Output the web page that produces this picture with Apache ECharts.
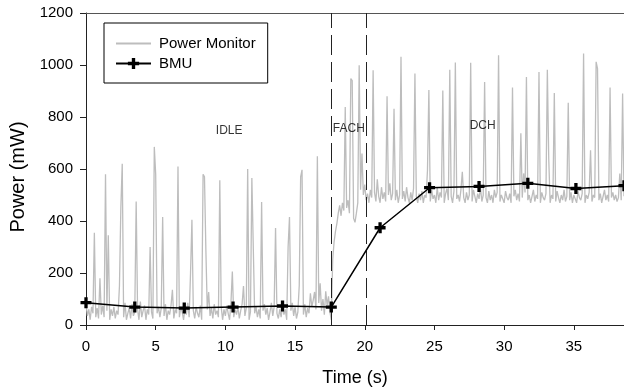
<!DOCTYPE html>
<html>
<head>
<meta charset="utf-8">
<script src="https://cdn.jsdelivr.net/npm/echarts@6/dist/echarts.min.js"></script>
<style>
html,body{margin:0;padding:0;background:#fff;}
#chart{width:624px;height:392px;}
</style>
</head>
<body>
<div id="chart"></div>
<script>
// ---- Data ----
// Power Monitor trace, sampled every 0.1 s from t = 0.0 s
var pmStep = 0.1;
var pmValues = [
  80, 35, 60, 20, 70, 45, 355, 30, 65, 25,
  180, 40, 75, 30, 580, 55, 345, 20, 60, 35,
  70, 25, 55, 40, 150, 450, 620, 30, 85, 20,
  45, 65, 25, 80, 35, 50, 475, 60, 20, 90,
  30, 55, 75, 20, 60, 40, 300, 50, 25, 685,
  580, 45, 70, 30, 65, 415, 35, 80, 20, 55,
  40, 75, 135, 25, 60, 45, 610, 30, 70, 50,
  20, 65, 40, 85, 30, 200, 405, 55, 25, 70,
  45, 30, 75, 20, 580, 570, 290, 60, 127, 35,
  65, 25, 80, 40, 55, 30, 557, 70, 20, 60,
  35, 75, 45, 20, 85, 206, 30, 60, 40, 70,
  25, 55, 80, 150, 35, 65, 600, 20, 50, 565,
  560, 45, 70, 30, 60, 25, 473, 55, 80, 40,
  65, 20, 50, 85, 35, 70, 373, 45, 25, 60,
  30, 75, 40, 60, 20, 299, 415, 55, 85, 35,
  70, 25, 50, 152, 570, 597, 40, 80, 30, 65,
  45, 122, 70, 95, 127, 60, 649, 85, 160, 55,
  100, 40, 130, 75, 110, 50, 20, 250, 320, 360,
  390, 430, 460, 420, 470, 440, 838, 450, 480, 430,
  948, 940, 410, 395, 430, 470, 999, 520, 660, 500,
  540, 480, 505, 470, 520, 490, 980, 510, 475, 560,
  495, 470, 530, 485, 510, 475, 880, 500, 545, 480,
  505, 832, 480, 520, 470, 500, 1032, 485, 515, 475,
  530, 490, 470, 510, 480, 525, 967, 495, 470, 505,
  480, 515, 470, 500, 490, 595, 904, 475, 520, 485,
  500, 470, 530, 480, 510, 490, 902, 470, 505, 525,
  480, 982, 495, 470, 515, 1010, 485, 500, 475, 520,
  589, 490, 470, 510, 480, 500, 1009, 475, 520, 495,
  470, 505, 485, 530, 475, 500, 935, 490, 470, 515,
  480, 500, 470, 520, 490, 510, 1037, 475, 500, 485,
  470, 515, 490, 480, 505, 470, 913, 495, 520, 480,
  505, 475, 737, 490, 583, 510, 954, 480, 500, 470,
  495, 520, 475, 500, 485, 973, 470, 510, 490, 480,
  505, 982, 640, 470, 500, 485, 892, 475, 515, 490,
  470, 500, 480, 520, 475, 495, 855, 480, 510, 470,
  500, 485, 470, 515, 490, 480, 505, 1044, 470, 500,
  485, 510, 672, 475, 500, 490, 1012, 986, 480, 505,
  470, 495, 520, 480, 500, 475, 913, 490, 510, 480,
  500, 475, 490, 583, 480, 890, 495
];

// BMU estimates
var bmuTimes  = [0, 3.5, 7.05, 10.55, 14.1, 17.6, 21.1, 24.65, 28.2, 31.7, 35.15, 38.6];
var bmuValues = [86, 69, 65, 69, 73, 69, 374, 528, 533, 545, 525, 536];

// Phase boundaries and labels
var phaseBounds = [17.6, 20.1];
var phaseNames  = ['IDLE', 'FACH', 'DCH'];
var phaseLabelX = [10.27, 18.86, 28.46];
var phaseLabelY = [749, 755, 768];

// Axis ticks
var xTicks = [0, 5, 10, 15, 20, 25, 30, 35];
var yTicks = [0, 200, 400, 600, 800, 1000, 1200];

// ---- Build ----
var pmData = pmValues.map(function (v, i) { return [+(i * pmStep).toFixed(1), v]; });
var bmuData = bmuTimes.map(function (t, i) { return [t, bmuValues[i]]; });
var phaseData = phaseNames.map(function (n, i) { return [phaseLabelX[i], phaseLabelY[i], n]; });

var FONT = '"Liberation Sans", Arial, sans-serif';
var plusPath = 'path://M3.5,0h3v3.5h3.5v3h-3.5v3.5h-3v-3.5h-3.5v-3h3.5z';

var chart = echarts.init(document.getElementById('chart'));
chart.setOption({
  animation: false,
  backgroundColor: '#fff',
  textStyle: { fontFamily: FONT },
  grid: { left: 86, right: 0, top: 13, bottom: 67 },
  legend: {
    data: [
      { name: 'Power Monitor', itemStyle: { opacity: 0, borderWidth: 0 } },
      { name: 'BMU' }
    ],
    orient: 'vertical',
    left: 104, top: 23,
    padding: [13, 12, 12, 11],
    itemWidth: 35, itemHeight: 14, itemGap: 5,
    borderColor: '#000', borderWidth: 1,
    textStyle: { fontFamily: FONT, fontSize: 15, color: '#000', lineHeight: 14, padding: [0, 0, 0, 3] }
  },
  xAxis: [{
    type: 'value', min: 0, max: 38.6, interval: 5,
    name: 'Time (s)', nameLocation: 'middle', nameGap: 44,
    nameTextStyle: { fontFamily: FONT, fontSize: 18, color: '#000' },
    axisLine: { show: true, lineStyle: { color: '#222', width: 1 } },
    axisTick: { show: true, inside: false, length: 5, lineStyle: { color: '#222' } },
    axisLabel: {
      show: true, margin: 14, fontFamily: FONT, fontSize: 15, color: '#000',
      showMaxLabel: false,
      formatter: function (v) { return xTicks.indexOf(v) >= 0 ? String(v) : ''; }
    },
    splitLine: { show: false }
  }, {
    type: 'value', position: 'top', min: 0, max: 38.6,
    axisLine: { show: true, lineStyle: { color: '#555', width: 1 } },
    axisTick: { show: false }, axisLabel: { show: false }, splitLine: { show: false }
  }],
  yAxis: {
    type: 'value', min: 0, max: 1200, interval: 200,
    name: 'Power (mW)', nameLocation: 'middle', nameGap: 57,
    nameTextStyle: { fontFamily: FONT, fontSize: 20, color: '#000', padding: [0, 16, 0, 0] },
    axisLine: { show: true, lineStyle: { color: '#222', width: 1 } },
    axisTick: { show: true, inside: false, length: 6, lineStyle: { color: '#222' } },
    axisLabel: {
      margin: 13, fontFamily: FONT, fontSize: 15, color: '#000',
      formatter: function (v) { return yTicks.indexOf(v) >= 0 ? String(v) : ''; }
    },
    splitLine: { show: false }
  },
  series: [{
    name: 'Power Monitor', type: 'line', data: pmData,
    symbol: 'none', showSymbol: false,
    lineStyle: { color: '#bdbdbd', width: 1.3 },
    itemStyle: { color: '#bdbdbd' },
    z: 2,
    markLine: {
      silent: true, symbol: ['none', 'none'],
      label: { show: false },
      lineStyle: { color: '#222', type: [20, 7], width: 1 },
      data: phaseBounds.map(function (b) { return { xAxis: b }; })
    }
  }, {
    name: 'BMU', type: 'line', data: bmuData,
    symbol: plusPath, symbolSize: 11, showSymbol: true,
    lineStyle: { color: '#000', width: 1.5 },
    itemStyle: { color: '#000' },
    z: 5
  }, {
    name: 'phases', type: 'scatter', data: phaseData,
    symbolSize: 0, silent: true, z: 6,
    label: {
      show: true, position: 'inside', fontFamily: FONT, fontSize: 12, color: '#000',
      formatter: function (p) { return p.data[2]; }
    }
  }]
});
</script>
</body>
</html>
